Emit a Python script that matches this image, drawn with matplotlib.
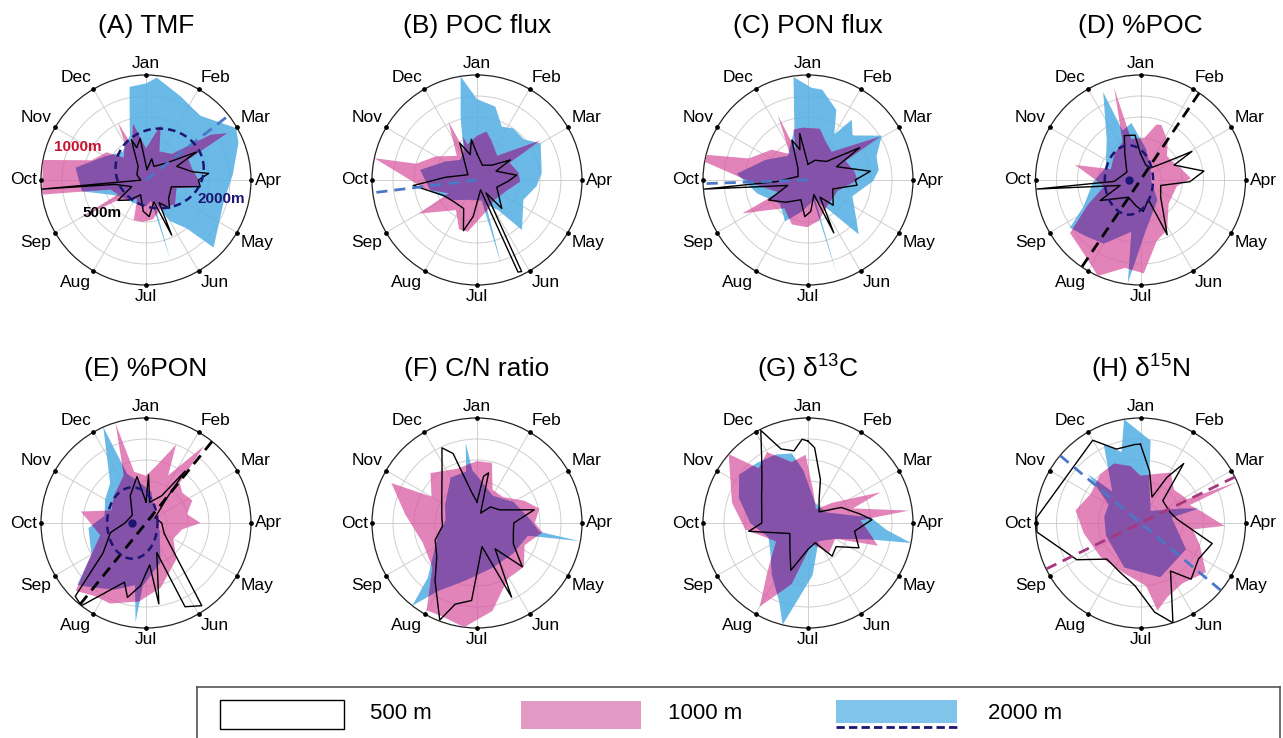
import numpy as np
import matplotlib
matplotlib.use('Agg')
import matplotlib.pyplot as plt
from matplotlib.patches import Rectangle

plt.rcParams['font.family'] = ['Liberation Sans', 'DejaVu Sans']
plt.rcParams['mathtext.fontset'] = 'custom'
plt.rcParams['mathtext.rm'] = 'Liberation Sans'

# sampling day in a 360-day year (30-day months), value scaled 0-1 to the panel max
months = ['Jan', 'Feb', 'Mar', 'Apr', 'May', 'Jun', 'Jul', 'Aug', 'Sep', 'Oct', 'Nov', 'Dec']
titles = ['(A) TMF', '(B) POC flux', '(C) PON flux', '(D) %POC',
          '(E) %PON', '(F) C/N ratio', '(G) δ$^{13}$C', '(H) δ$^{15}$N']

# (A) TMF
A_500_d = [5, 15, 30, 50, 61, 66, 80, 84, 90, 97, 105, 130, 140, 150, 155, 160, 175, 185, 200, 220, 234, 245, 262, 265, 268, 300, 330, 340, 344, 352]
A_500_v = [0.10, 0.21, 0.15, 0.25, 0.55, 0.32, 0.45, 0.60, 0.50, 0.52, 0.25, 0.28, 0.35, 0.25, 0.58, 0.22, 0.35, 0.30, 0.15, 0.25, 0.33, 0.15, 0.30, 1.00, 0.05, 0.10, 0.15, 0.41, 0.32, 0.40]
A_1000_d = [0, 15, 25, 45, 55, 60, 64, 75, 90, 97, 105, 130, 150, 170, 184, 197, 205, 235, 240, 243, 255, 262, 281, 290, 305, 315, 330, 334, 338, 347]
A_1000_v = [0.30, 0.54, 0.30, 0.35, 0.75, 0.89, 0.45, 0.45, 0.50, 0.52, 0.30, 0.36, 0.30, 0.38, 0.40, 0.40, 0.20, 0.35, 0.74, 0.30, 0.35, 1.00, 1.00, 0.55, 0.46, 0.30, 0.40, 0.61, 0.35, 0.55]
A_2000_d = [0, 6, 23, 40, 60, 68, 86, 107, 135, 140, 150, 160, 163, 166, 180, 210, 240, 260, 280, 300, 320, 340, 345, 350]
A_2000_v = [0.92, 0.98, 0.86, 0.80, 0.99, 0.95, 0.83, 0.77, 0.91, 0.60, 0.45, 0.20, 0.80, 0.20, 0.25, 0.25, 0.30, 0.62, 0.68, 0.45, 0.35, 0.45, 0.60, 0.90]

# (B) POC flux
B_500_d = [0, 20, 45, 59, 65, 83, 92, 110, 139, 145, 154, 156, 160, 186, 195, 205, 225, 245, 265, 275, 300, 335, 345, 352]
B_500_v = [0.25, 0.15, 0.20, 0.37, 0.20, 0.38, 0.30, 0.20, 0.36, 0.15, 0.97, 0.96, 0.10, 0.35, 0.50, 0.30, 0.30, 0.35, 0.61, 0.30, 0.10, 0.39, 0.25, 0.39]
B_1000_d = [0, 11, 20, 40, 58, 62, 80, 92, 110, 140, 160, 190, 200, 215, 240, 245, 260, 282, 285, 300, 320, 334, 337, 342, 345]
B_1000_v = [0.42, 0.47, 0.40, 0.30, 0.71, 0.35, 0.40, 0.41, 0.30, 0.25, 0.30, 0.50, 0.50, 0.35, 0.64, 0.30, 0.50, 1.00, 0.60, 0.45, 0.30, 0.62, 0.30, 0.43, 0.35]
B_2000_d = [0, 14, 25, 35, 49, 60, 84, 96, 113, 138, 145, 160, 164, 167, 200, 230, 255, 280, 300, 320, 335, 345, 351]
B_2000_v = [0.77, 0.72, 0.56, 0.60, 0.59, 0.70, 0.62, 0.57, 0.48, 0.64, 0.35, 0.25, 0.85, 0.20, 0.20, 0.30, 0.45, 0.55, 0.35, 0.25, 0.30, 0.60, 1.00]

# (C) PON flux
C_500_d = [0, 20, 45, 58, 65, 82, 90, 96, 110, 135, 145, 154, 158, 175, 185, 200, 225, 243, 255, 265, 267, 290, 320, 338, 345, 350]
C_500_v = [0.15, 0.20, 0.25, 0.58, 0.30, 0.60, 0.45, 0.47, 0.25, 0.34, 0.20, 0.56, 0.15, 0.30, 0.35, 0.20, 0.30, 0.42, 0.20, 0.99, 0.30, 0.10, 0.15, 0.41, 0.30, 0.45]
C_1000_d = [13, 25, 40, 59, 63, 80, 90, 110, 140, 165, 181, 200, 220, 243, 247, 262, 280, 284, 290, 310, 325, 335, 338, 344, 355]
C_1000_v = [0.50, 0.40, 0.35, 0.80, 0.40, 0.45, 0.47, 0.30, 0.30, 0.40, 0.45, 0.45, 0.35, 0.70, 0.30, 0.45, 1.00, 0.99, 0.60, 0.45, 0.30, 0.68, 0.30, 0.50, 0.50]
C_2000_d = [2, 9, 22, 30, 36, 45, 59, 71, 82, 91, 110, 137, 145, 160, 163, 165, 190, 209, 230, 255, 275, 295, 320, 345, 352]
C_2000_v = [0.88, 0.87, 0.72, 0.50, 0.71, 0.60, 0.82, 0.69, 0.68, 0.62, 0.45, 0.71, 0.35, 0.20, 0.95, 0.20, 0.30, 0.45, 0.35, 0.50, 0.68, 0.45, 0.30, 0.50, 0.99]

# (D) %POC
D_500_d = [0, 20, 40, 55, 61, 66, 82, 92, 105, 130, 154, 158, 175, 190, 215, 243, 255, 265, 267, 300, 330, 340, 353]
D_500_v = [0.25, 0.15, 0.15, 0.30, 0.56, 0.35, 0.61, 0.47, 0.20, 0.25, 0.58, 0.20, 0.30, 0.25, 0.20, 0.43, 0.20, 0.99, 0.25, 0.15, 0.30, 0.45, 0.43]
D_1000_d = [5, 16, 21, 35, 48, 60, 74, 88, 100, 130, 152, 165, 178, 190, 204, 215, 233, 245, 260, 283, 290, 315, 335, 344, 347]
D_1000_v = [0.40, 0.55, 0.56, 0.45, 0.34, 0.35, 0.40, 0.48, 0.35, 0.35, 0.54, 0.60, 0.89, 0.85, 1.00, 0.90, 0.84, 0.55, 0.35, 0.64, 0.30, 0.35, 0.40, 0.91, 0.40]
D_2000_d = [10, 40, 90, 140, 175, 187, 190, 210, 225, 236, 245, 268, 290, 305, 320, 337, 340, 351]
D_2000_v = [0.30, 0.15, 0.10, 0.25, 0.50, 0.99, 0.50, 0.70, 0.75, 0.81, 0.60, 0.45, 0.35, 0.40, 0.50, 0.91, 0.50, 0.55]

# (E) %PON
E_500_d = [0, 3, 10, 30, 37, 40, 60, 90, 120, 146, 155, 160, 171, 175, 185, 194, 200, 218, 224, 235, 255, 270, 300, 330, 349]
E_500_v = [0.20, 0.46, 0.20, 0.30, 0.62, 0.30, 0.10, 0.15, 0.20, 0.95, 0.88, 0.30, 0.78, 0.40, 0.60, 0.73, 0.60, 1.00, 0.97, 0.50, 0.35, 0.20, 0.15, 0.30, 0.45]
E_1000_d = [0, 10, 21, 25, 37, 40, 50, 64, 78, 90, 100, 120, 140, 167, 185, 204, 215, 226, 240, 255, 280, 290, 310, 335, 343, 347]
E_1000_v = [0.45, 0.55, 0.80, 0.50, 0.92, 0.50, 0.45, 0.49, 0.40, 0.52, 0.35, 0.30, 0.45, 0.63, 0.75, 0.84, 0.85, 0.93, 0.60, 0.45, 0.63, 0.35, 0.40, 0.50, 0.99, 0.50]
E_2000_d = [10, 60, 120, 160, 183, 186, 190, 205, 220, 228, 240, 265, 280, 300, 318, 336, 339, 350]
E_2000_v = [0.30, 0.10, 0.15, 0.40, 0.60, 0.95, 0.60, 0.70, 0.80, 0.88, 0.60, 0.55, 0.40, 0.45, 0.51, 1.00, 0.50, 0.40]

# (F) C/N ratio
F_500_d = [0, 8, 13, 20, 40, 60, 77, 90, 106, 120, 134, 145, 155, 168, 184, 195, 201, 216, 230, 248, 265, 280, 307, 325, 335, 341, 350]
F_500_v = [0.20, 0.45, 0.49, 0.10, 0.20, 0.25, 0.56, 0.35, 0.36, 0.40, 0.60, 0.30, 0.78, 0.23, 0.74, 0.80, 0.99, 0.68, 0.50, 0.43, 0.33, 0.34, 0.42, 0.58, 0.79, 0.70, 0.30]
F_1000_d = [0, 14, 25, 45, 65, 77, 90, 98, 115, 133, 150, 170, 187, 200, 210, 225, 250, 277, 295, 300, 317, 340]
F_1000_v = [0.59, 0.59, 0.35, 0.35, 0.50, 0.61, 0.55, 0.63, 0.50, 0.61, 0.60, 0.85, 1.00, 0.95, 0.96, 0.60, 0.55, 0.69, 0.90, 0.50, 0.65, 0.55]
F_2000_d = [0, 30, 60, 85, 98, 100, 104, 130, 160, 190, 210, 218, 222, 250, 275, 300, 330, 348, 352, 355]
F_2000_v = [0.45, 0.30, 0.40, 0.50, 0.60, 0.99, 0.50, 0.45, 0.45, 0.55, 0.75, 1.00, 0.70, 0.40, 0.30, 0.35, 0.50, 0.50, 0.77, 0.50]

# (G) d13C
G_500_d = [0, 5, 16, 25, 45, 65, 80, 87, 100, 116, 130, 144, 160, 180, 200, 215, 240, 262, 270, 300, 315, 325, 333, 340, 349, 356]
G_500_v = [0.78, 0.72, 0.43, 0.25, 0.15, 0.35, 0.50, 0.61, 0.45, 0.54, 0.35, 0.39, 0.20, 0.25, 0.48, 0.30, 0.20, 0.57, 0.44, 0.51, 0.62, 0.77, 0.99, 0.75, 0.70, 0.80]
G_1000_d = [10, 30, 50, 67, 72, 83, 87, 100, 108, 120, 145, 170, 195, 210, 220, 240, 264, 285, 311, 318, 330, 345, 358]
G_1000_v = [0.30, 0.15, 0.30, 0.75, 0.45, 0.97, 0.50, 0.60, 0.70, 0.30, 0.35, 0.20, 0.60, 0.92, 0.60, 0.35, 0.60, 0.75, 1.00, 0.70, 0.78, 0.60, 0.65]
G_2000_d = [20, 60, 85, 95, 101, 105, 120, 150, 175, 194, 200, 215, 231, 250, 270, 290, 305, 320, 335, 347, 355]
G_2000_v = [0.20, 0.20, 0.60, 0.75, 1.00, 0.60, 0.30, 0.20, 0.50, 1.00, 0.80, 0.60, 0.46, 0.40, 0.55, 0.70, 0.80, 0.75, 0.72, 0.68, 0.50]

# (H) d15N
H_500_d = [0, 10, 24, 30, 36, 45, 70, 84, 106, 122, 138, 148, 162, 171, 185, 202, 223, 240, 265, 273, 330, 342, 356]
H_500_v = [0.75, 0.50, 0.27, 0.50, 0.70, 0.30, 0.30, 0.35, 0.71, 0.65, 0.72, 0.54, 1.00, 0.86, 0.60, 0.51, 0.47, 0.70, 0.99, 0.99, 0.91, 0.74, 0.75]
H_1000_d = [0, 20, 31, 45, 63, 67, 70, 80, 92, 97, 110, 127, 145, 160, 169, 175, 200, 230, 260, 281, 300, 320, 336, 350]
H_1000_v = [0.45, 0.50, 0.56, 0.45, 0.50, 1.00, 0.50, 0.60, 0.80, 0.50, 0.60, 0.78, 0.70, 0.75, 0.85, 0.60, 0.50, 0.50, 0.55, 0.63, 0.55, 0.60, 0.62, 0.55]
H_2000_d = [7, 12, 40, 70, 76, 80, 120, 160, 200, 250, 280, 300, 313, 318, 335, 345, 351]
H_2000_v = [0.79, 0.40, 0.15, 0.40, 0.57, 0.30, 0.50, 0.55, 0.45, 0.35, 0.35, 0.35, 0.68, 0.40, 0.83, 0.70, 1.00]

series = {
    'A': [(A_500_d, A_500_v), (A_1000_d, A_1000_v), (A_2000_d, A_2000_v)],
    'B': [(B_500_d, B_500_v), (B_1000_d, B_1000_v), (B_2000_d, B_2000_v)],
    'C': [(C_500_d, C_500_v), (C_1000_d, C_1000_v), (C_2000_d, C_2000_v)],
    'D': [(D_500_d, D_500_v), (D_1000_d, D_1000_v), (D_2000_d, D_2000_v)],
    'E': [(E_500_d, E_500_v), (E_1000_d, E_1000_v), (E_2000_d, E_2000_v)],
    'F': [(F_500_d, F_500_v), (F_1000_d, F_1000_v), (F_2000_d, F_2000_v)],
    'G': [(G_500_d, G_500_v), (G_1000_d, G_1000_v), (G_2000_d, G_2000_v)],
    'H': [(H_500_d, H_500_v), (H_1000_d, H_1000_v), (H_2000_d, H_2000_v)],
}

# mean directions (day), drawn as dashed radius / diameter
mean_dir_2000 = {'A': 52, 'B': 263, 'C': 268}
axis_500 = {'D': 34, 'E': 39}
axis_2000 = {'H': 310}
axis_1000 = {'H': 64}
# confidence ellipses for 2000 m: centre east, centre north, half-widths
ell_2000 = {'A': (0.13, 0.11, 0.42, 0.38), 'D': (-0.11, 0.0, 0.23, 0.33), 'E': (-0.13, 0.0, 0.24, 0.34)}

blue = '#56b0e3'
pink = '#d8559f'
purple = '#8050a8'
navy = '#1c1572'
dblue = '#4a78c8'
magenta = '#a5377f'

fig = plt.figure(figsize=(12.83, 7.38), dpi=100)
W, H = 1283, 738
centers_x = [146, 477, 808, 1140.5]
centers_y = [180, 523]
R = 105

def th(d):
    return np.deg2rad(np.asarray(d, dtype=float))

keys = 'ABCDEFGH'
for i, k in enumerate(keys):
    cx = centers_x[i % 4]
    cy = centers_y[i // 4]
    ax = fig.add_axes([(cx - R) / W, 1 - (cy + R) / H, 2 * R / W, 2 * R / H], projection='polar')
    ax.set_theta_zero_location('N')
    ax.set_theta_direction(-1)
    ax.set_ylim(0, 1)
    ax.set_axisbelow(True)
    ax.set_yticks([0.2, 0.4, 0.6, 0.8])
    ax.set_yticklabels([])
    ax.set_xticks(th(np.arange(12) * 30))
    ax.set_xticklabels([])
    ax.grid(color='#cfcfcf', lw=0.7)
    ax.spines['polar'].set_color('#222222')
    ax.spines['polar'].set_linewidth(0.9)
    ax.tick_params(length=0)

    (d5, v5), (d10, v10), (d20, v20) = series[k]
    bpoly = ax.fill(th(d20), v20, color=blue, alpha=0.88, lw=0, zorder=2)[0]
    ax.fill(th(d10), v10, color=pink, alpha=0.72, lw=0, zorder=3)
    over = ax.fill(th(d10), v10, color=purple, alpha=0.92, lw=0, zorder=4)[0]
    over.set_clip_path(bpoly)
    ax.plot(th(list(d5) + [d5[0]]), list(v5) + [v5[0]], color='k', lw=1.0, zorder=6)

    if k in mean_dir_2000:
        ax.plot(th([mean_dir_2000[k]] * 2), [0, 1], ls=(0, (4, 2.5)), color=dblue, lw=2, zorder=7)
    if k in axis_500:
        a = axis_500[k]
        ax.plot(th([a, a + 180]), [1, 1], ls=(0, (4, 2.5)), color='k', lw=2, zorder=7)
    if k in axis_2000:
        a = axis_2000[k]
        ax.plot(th([a, a + 180]), [1, 1], ls=(0, (4, 2.5)), color=dblue, lw=2, zorder=7)
    if k in axis_1000:
        a = axis_1000[k]
        ax.plot(th([a, a + 180]), [1, 1], ls=(0, (4, 2.5)), color=magenta, lw=2, zorder=7)
    if k in ell_2000:
        ex, ey, rx, ry = ell_2000[k]
        t = np.linspace(0, 2 * np.pi, 200)
        x = ex + rx * np.cos(t)
        y = ey + ry * np.sin(t)
        ax.plot(np.arctan2(x, y), np.hypot(x, y), ls=(0, (3, 2)), color=navy, lw=1.8, zorder=8)
        if k != 'A':
            ax.plot([np.arctan2(ex, ey)], [np.hypot(ex, ey)], 'o', color=navy, ms=5, zorder=9)

    # month dots and labels
    ang = np.arange(12) * 30
    ax.plot(th(ang), np.ones(12), 'o', color='k', ms=2.4, clip_on=False, zorder=10)
    for m, a in zip(months, ang):
        s, c = np.sin(np.deg2rad(a)), np.cos(np.deg2rad(a))
        ha = 'left' if s > 0.1 else ('right' if s < -0.1 else 'center')
        va = 'bottom' if c > 0.1 else ('top' if c < -0.1 else 'center')
        ax.annotate(m, (np.deg2rad(a), 1), xytext=(3 * s, 3 * c), textcoords='offset points',
                    ha=ha, va=va, fontsize=12.5, annotation_clip=False)
    ax.set_title(titles[i], fontsize=19, pad=30)

# depth tags in panel A
fig.text(78 / W, 1 - 147 / H, '1000m', color='#c4122f', fontsize=11, fontweight='bold', ha='center', va='center')
fig.text(102 / W, 1 - 213 / H, '500m', color='k', fontsize=11, fontweight='bold', ha='center', va='center')
fig.text(221 / W, 1 - 199 / H, '2000m', color=navy, fontsize=11, fontweight='bold', ha='center', va='center')

# legend box
lg = fig.add_axes([197 / W, -0.02, (1280 - 197) / W, (738 - 687) / H + 0.02])
lg.set_xlim(197, 1280)
lg.set_ylim(738 + 0.02 * H, 687)
lg.set_xticks([])
lg.set_yticks([])
for sp in lg.spines.values():
    sp.set_color('#555555')
    sp.set_linewidth(1.2)
lg.add_patch(Rectangle((220, 700), 124, 29, facecolor='white', edgecolor='k', lw=1))
lg.add_patch(Rectangle((521, 701), 120, 28, facecolor='#e09ac4', edgecolor='none'))
lg.add_patch(Rectangle((836, 700), 121, 23, facecolor='#80c4ec', edgecolor='none'))
lg.plot([836, 957], [727, 727], ls=(0, (3, 1.5)), color=navy, lw=2)
for x, s in [(370, '500 m'), (668, '1000 m'), (988, '2000 m')]:
    lg.text(x, 714, s, fontsize=16, ha='left', va='center',
            family=['Liberation Sans Narrow', 'Liberation Sans', 'DejaVu Sans'])

fig.savefig('out.png', dpi=100)
